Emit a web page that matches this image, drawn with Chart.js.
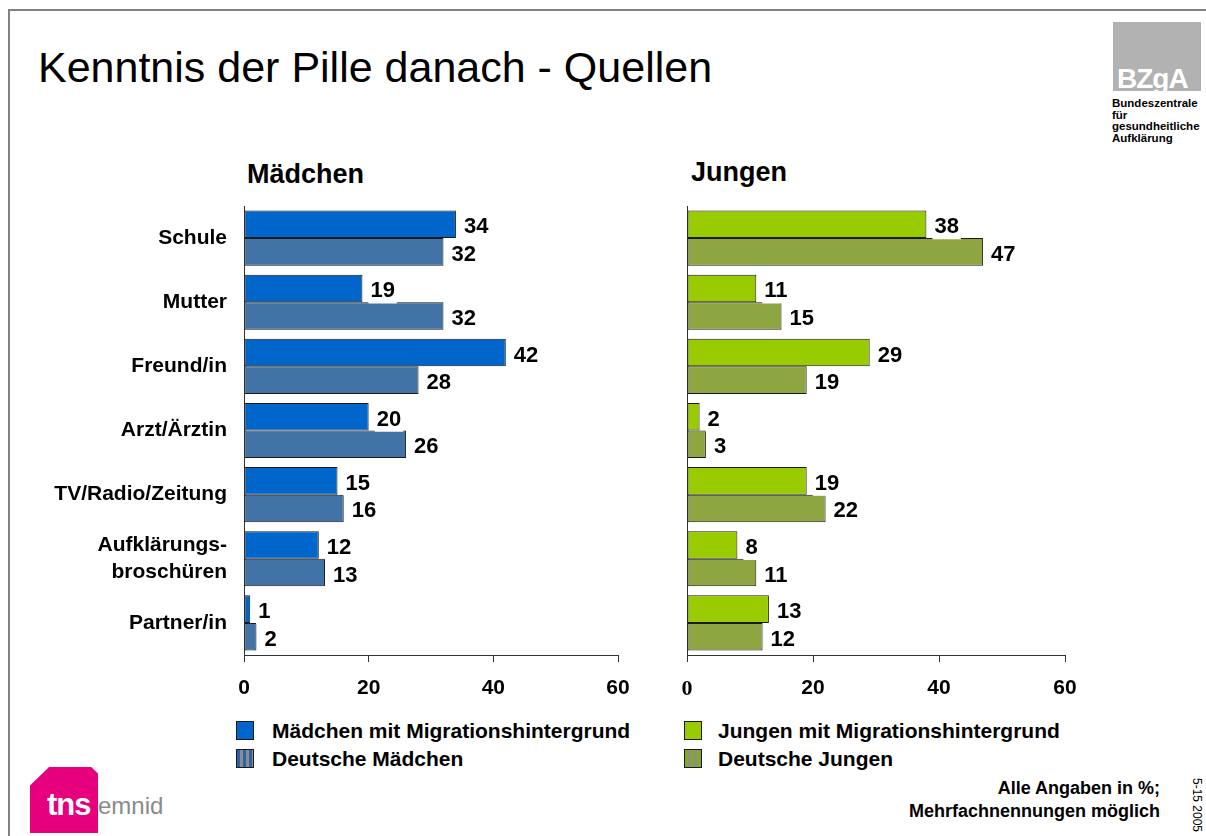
<!DOCTYPE html>
<html>
<head>
<meta charset="utf-8">
<script src="https://cdn.jsdelivr.net/npm/chart.js@4/dist/chart.umd.min.js"></script>
<style>
  body { margin:0; width:1206px; height:836px; position:relative; background:#fff; overflow:hidden;
         font-family:"Liberation Sans", Arial, sans-serif; }
  .abs { position:absolute; line-height:1; white-space:nowrap; color:#000; }
  .frame-top { position:absolute; left:8px; top:9px; width:1198px; height:2px; background:#808080; }
  .frame-left { position:absolute; left:8px; top:9px; width:2px; height:827px; background:#808080; }
  .sw { position:absolute; width:16px; height:17px; border:1px solid #1a1a1a; }
  .legtxt { position:absolute; font-size:21px; font-weight:bold; line-height:1; white-space:nowrap; }
  canvas { position:absolute; }
</style>
</head>
<body>
<div class="frame-top"></div>
<div class="frame-left"></div>

<div class="abs" style="left:38px;top:46px;font-size:43px;">Kenntnis der Pille danach - Quellen</div>
<div class="abs" style="left:247px;top:161px;font-size:27px;font-weight:bold;">Mädchen</div>
<div class="abs" style="left:691px;top:159px;font-size:27px;font-weight:bold;">Jungen</div>

<!-- BZgA logo -->
<div style="position:absolute;left:1113px;top:22px;width:88px;height:69px;background:#b2b2b2;"></div>
<div class="abs" style="left:1117px;top:65px;font-size:28px;font-weight:bold;color:#fff;letter-spacing:-1px;">BZgA</div>
<div class="abs" style="left:1112px;top:98px;font-size:11.5px;font-weight:bold;line-height:11.6px;">Bundeszentrale<br>für<br>gesundheitliche<br>Aufklärung</div>

<!-- tns emnid logo -->
<div style="position:absolute;left:30px;top:767px;width:68px;height:66px;background:#e6007e;clip-path:polygon(0 28%,28% 0,90% 0,100% 10%,100% 100%,0 100%);"></div>
<div class="abs" style="left:47px;top:789px;font-size:31px;font-weight:bold;color:#fff;letter-spacing:-1px;">tns</div>
<div class="abs" style="left:98px;top:794px;font-size:24px;color:#8a8a8a;font-family:'Liberation Sans Narrow','Liberation Sans',Arial,sans-serif;">emnid</div>

<div class="abs" style="right:46px;top:777px;font-size:18px;font-weight:bold;text-align:right;line-height:23px;">Alle Angaben in %;<br>Mehrfachnennungen möglich</div>
<div class="abs" style="left:1203px;top:778px;font-size:12px;transform:rotate(90deg);transform-origin:left top;">5-15 2005</div>

<canvas id="chartM" width="650" height="520" style="left:0px;top:190px;"></canvas>
<canvas id="chartJ" width="450" height="520" style="left:650px;top:190px;"></canvas>

<div id="legendM"></div>
<div id="legendJ"></div>

<script>
// data
const categories = ['Schule', 'Mutter', 'Freund/in', 'Arzt/Ärztin', 'TV/Radio/Zeitung', ['Aufklärungs-', 'broschüren'], 'Partner/in'];
const seriesM = ['Mädchen mit Migrationshintergrund', 'Deutsche Mädchen'];
const seriesJ = ['Jungen mit Migrationshintergrund', 'Deutsche Jungen'];
const maedchenMigration = [34, 19, 42, 20, 15, 12, 1];
const maedchenDeutsch = [32, 32, 28, 26, 16, 13, 2];
const jungenMigration = [38, 11, 29, 2, 19, 8, 13];
const jungenDeutsch = [47, 15, 19, 3, 22, 11, 12];
const xTicks = [0, 20, 40, 60];

const SANS = '"Liberation Sans", Arial, sans-serif';
const colM = ['#0066cc', '#4273a6'];
const colJ = ['#99cc00', '#8da642'];

// value labels with white box behind (like the original)
const valueLabels = {
  id: 'valueLabels',
  afterDatasetsDraw(chart) {
    const ctx = chart.ctx;
    ctx.save();
    ctx.font = 'bold 22px ' + SANS;
    ctx.textBaseline = 'middle';
    ctx.textAlign = 'left';
    chart.data.datasets.forEach((ds, i) => {
      chart.getDatasetMeta(i).data.forEach((bar, j) => {
        const txt = String(ds.data[j]);
        const w = ctx.measureText(txt).width;
        const x = bar.x + 8, y = bar.y + 2;
        ctx.fillStyle = '#fff';
        ctx.fillRect(x - 2, y - 13, w + 4, 26);
        ctx.fillStyle = '#000';
        ctx.fillText(txt, x, y + 1);
      });
    });
    ctx.restore();
  }
};

function makeChart(id, names, dataA, dataB, colors, showCats, yWidth, padRight, zeroSerif) {
  const ctx = document.getElementById(id).getContext('2d');
  return new Chart(ctx, {
    type: 'bar',
    data: {
      labels: categories,
      datasets: [{
        label: names[0], data: dataA, backgroundColor: colors[0],
        borderColor: '#1a1a1a', borderWidth: 1, borderSkipped: false,
        barPercentage: 1.0, categoryPercentage: 0.86
      }, {
        label: names[1], data: dataB, backgroundColor: colors[1],
        borderColor: '#1a1a1a', borderWidth: 1, borderSkipped: false,
        barPercentage: 1.0, categoryPercentage: 0.86
      }]
    },
    plugins: [valueLabels],
    options: {
      responsive: false,
      animation: false,
      events: [],
      indexAxis: 'y',
      layout: { padding: { top: 16, right: padRight, left: 0, bottom: 0 } },
      plugins: { legend: { display: false }, tooltip: { enabled: false } },
      scales: {
        x: {
          min: 0, max: 60,
          afterFit: (s) => { s.height = 55; },
          afterBuildTicks: (s) => { s.ticks = xTicks.map(v => ({ value: v })); },
          grid: { display: true, drawOnChartArea: false, drawTicks: true, tickLength: 7, color: '#333' },
          border: { display: true, color: '#333', width: 1 },
          ticks: {
            color: '#000', padding: 14, maxRotation: 0,
            font: (c) => (zeroSerif && c.tick && c.tick.value === 0)
              ? { family: '"Liberation Serif", "Times New Roman", serif', size: 22, weight: 'bold' }
              : { family: SANS, size: 21, weight: 'bold' }
          }
        },
        y: {
          afterFit: (s) => { s.width = yWidth; s.paddingTop = 0; s.paddingBottom = 0; },
          grid: { display: false },
          border: { display: true, color: '#333', width: 1 },
          ticks: {
            display: showCats, color: '#000', padding: 9,
            font: { family: SANS, size: 21, weight: 'bold', lineHeight: 1.3 }
          }
        }
      }
    }
  });
}

makeChart('chartM', seriesM, maedchenMigration, maedchenDeutsch, colM, true, 244, 32, false);
makeChart('chartJ', seriesJ, jungenMigration, jungenDeutsch, colJ, false, 37, 35, true);

// legends (html), built from series names
function buildLegend(elId, names, colors, left, textLeft) {
  const el = document.getElementById(elId);
  const stripe = (c) => 'repeating-linear-gradient(90deg,' + c + ' 0 3px,#8c8c8c 3px 6px)';
  names.forEach((n, i) => {
    const top = 721 + i * 28;
    const sw = document.createElement('div');
    sw.className = 'sw';
    sw.style.left = left + 'px';
    sw.style.top = top + 'px';
    sw.style.background = i === 0 ? colors[0] : stripe(colors[1]);
    el.appendChild(sw);
    const t = document.createElement('div');
    t.className = 'legtxt';
    t.style.left = textLeft + 'px';
    t.style.top = (top - 1) + 'px';
    t.textContent = n;
    el.appendChild(t);
  });
}
buildLegend('legendM', seriesM, ['#0066cc', '#2d62a8'], 236, 272);
buildLegend('legendJ', seriesJ, ['#99cc00', '#7fae1a'], 684, 718);
</script>
</body>
</html>
